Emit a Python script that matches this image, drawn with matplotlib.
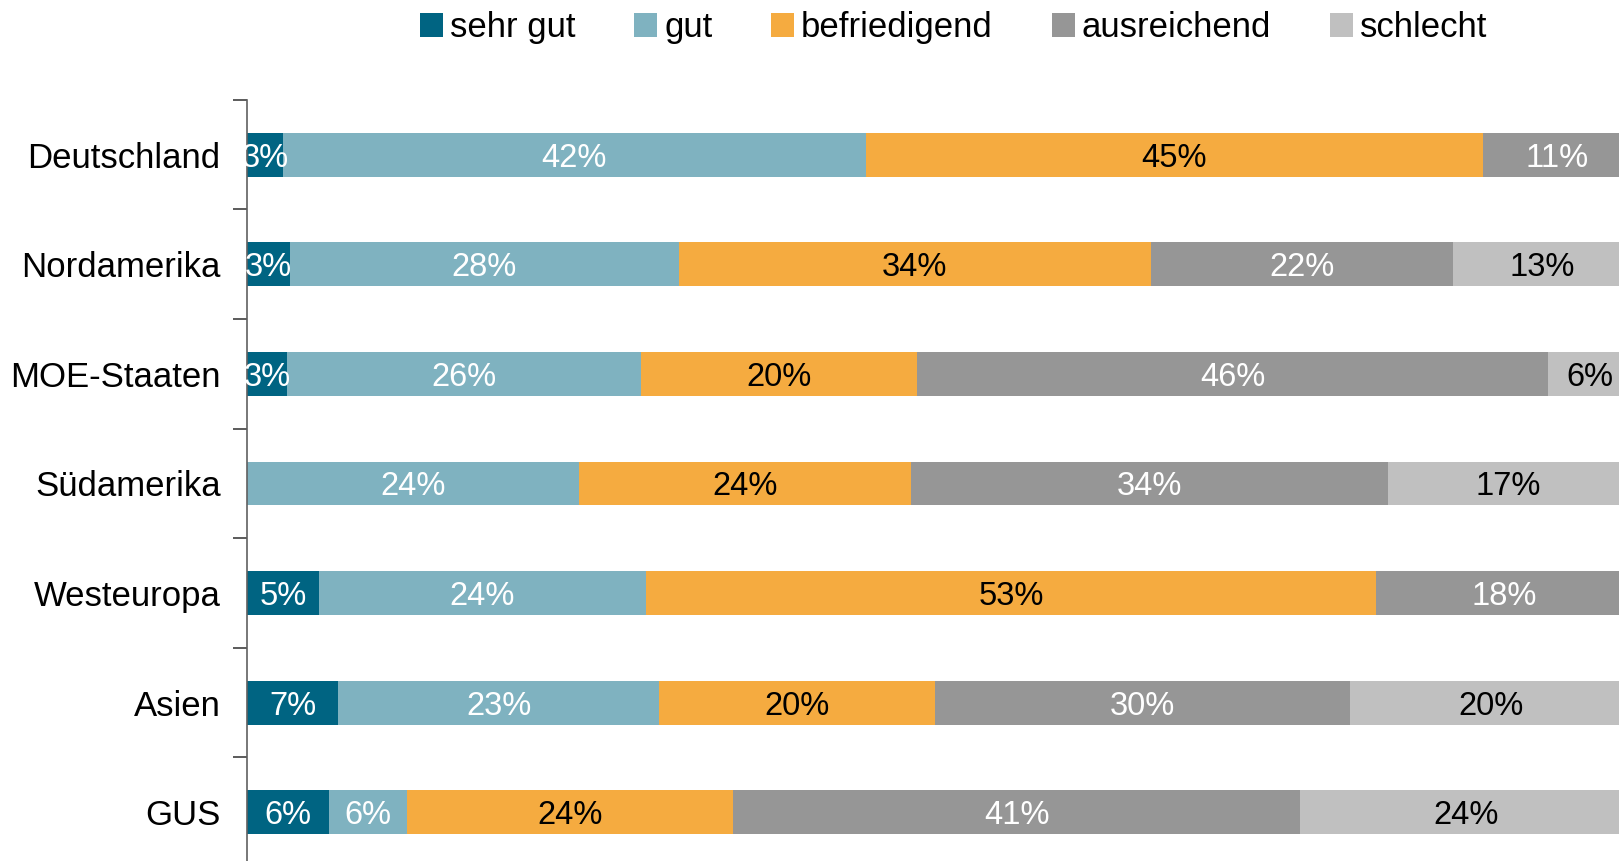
import matplotlib.pyplot as plt
import numpy as np

plt.rcParams['font.family'] = ['Liberation Sans', 'DejaVu Sans']

regions = ['Deutschland', 'Nordamerika', 'MOE-Staaten', 'Südamerika',
           'Westeuropa', 'Asien', 'GUS']
series = ['sehr gut', 'gut', 'befriedigend', 'ausreichend', 'schlecht']

# shares in percent
sehr_gut = [2.6, 3.1, 2.9, 0.0, 5.2, 6.6, 5.9]
gut = [42.1, 28.1, 25.6, 24.0, 23.6, 23.2, 5.7]
befriedigend = [44.6, 34.1, 19.9, 24.0, 52.8, 19.9, 23.5]
ausreichend = [10.7, 21.8, 45.6, 34.4, 18.4, 30.0, 41.0]
schlecht = [0.0, 12.9, 6.0, 17.4, 0.0, 20.3, 23.9]

colors = ['#006482', '#7fb2c0', '#f5ab40', '#969696', '#c0c0c0']
text_colors = ['white', 'white', 'black', 'white', 'black']

fig = plt.figure(figsize=(16.19, 8.61), dpi=100)
ax = fig.add_axes([0.1525, -0.007, 0.855, 0.891])

y = np.arange(len(regions))
left = np.zeros(len(regions))
for name, vals, col, tcol in zip(series,
                                  [sehr_gut, gut, befriedigend, ausreichend, schlecht],
                                  colors, text_colors):
    vals = np.array(vals)
    ax.barh(y, vals, left=left, height=0.4, color=col, label=name)
    for yi, l, v in zip(y, left, vals):
        if v > 0:
            ax.text(l + v / 2, yi, '%d%%' % round(v), ha='center',
                    va='center_baseline', color=tcol, fontsize=23.5)
    left += vals

ax.set_xlim(0, 100)
ax.set_ylim(6.5, -0.5)
ax.set_yticks(y)
ax.set_yticklabels(regions, fontsize=25)
ax.tick_params(axis='y', which='major', length=0, pad=19)
ax.set_yticks(np.arange(-0.5, 7.0, 1.0), minor=True)
ax.tick_params(axis='y', which='minor', length=10, width=1.2, color='#404040')
ax.set_xticks([])
for s in ['top', 'right', 'bottom']:
    ax.spines[s].set_visible(False)
ax.spines['left'].set_color('#606060')
ax.spines['left'].set_linewidth(1.2)

fig.legend(loc='center', bbox_to_anchor=(0.589, 0.968), ncol=5, frameon=False,
           fontsize=25, handlelength=0.66, handleheight=0.72, handletextpad=0.2,
           columnspacing=1.7)

fig.savefig('out.png', dpi=100)
